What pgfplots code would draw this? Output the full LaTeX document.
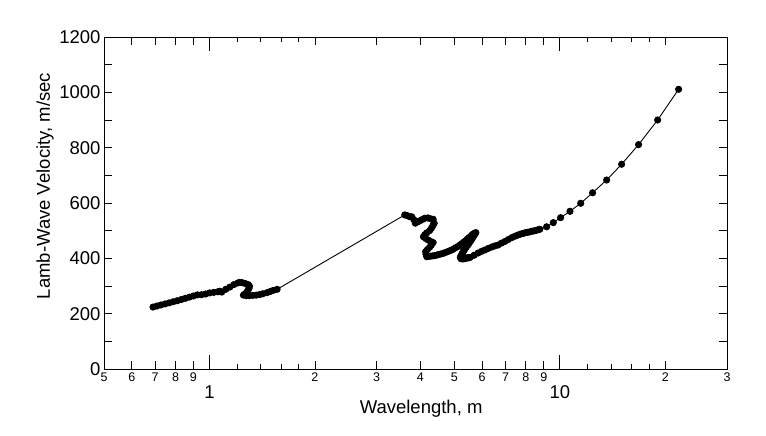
\documentclass[border=0pt]{standalone}
\usepackage{pgfplots}
\pgfplotsset{compat=1.18}
\usepackage{fontspec}
\setmainfont{Liberation Sans}
\newcommand{\bigtick}{\fontsize{18.5bp}{20bp}\selectfont}
\begin{document}
\begin{tikzpicture}
\path[use as bounding box] (-104bp,-67bp) rectangle (662bp,369bp);
\begin{axis}[
 at={(0,0)}, anchor=south west,
 scale only axis, width=623bp, height=332bp,
 xmode=log, log basis x=10, xmin=0.5, xmax=30, ymin=0, ymax=1200,
 xtick={0.5,0.6,0.7,0.8,0.9,2,3,4,5,6,7,8,9,20,30},
 xticklabels={5,6,7,8,9,2,3,4,5,6,7,8,9,2,3},
 minor xtick={1.2,1.4,1.6,1.8,12,14,16,18},
 extra x ticks={1,10},
 extra x tick labels={{\bigtick 1},{\bigtick 10}},
 extra x tick style={major tick length=14bp, tick label style={yshift=-13bp}},
 ytick={0,100,...,1200},
 yticklabels={0,,200,,400,,600,,800,,1000,,1200},
 major tick length=8.5bp, minor tick length=5bp,
 tick align=inside,
 /pgf/number format/assume math mode=true,
 x tick label style={font=\fontsize{12.5bp}{14bp}\selectfont},
 y tick label style={font=\fontsize{18.5bp}{20bp}\selectfont},
 label style={font=\fontsize{18.5bp}{20bp}\selectfont},
 xlabel={Wavelength, m}, ylabel={Lamb-Wave Velocity, m/sec},
 xlabel style={at={(axis description cs:0.509,-0.1205)}, anchor=center},
 ylabel style={at={(axis description cs:-0.0947,0.551)}, anchor=center},
 axis line style={line width=0.9bp},
 tick style={line width=0.8bp, black},
]
\addplot[black, line width=0.9bp, mark=*, mark size=3.1bp, mark options={solid}] coordinates {
(0.690,224) (0.708,227.6) (0.727,231.4) (0.747,235.2) (0.767,238.9) (0.788,243)
(0.809,246.8) (0.831,251.2) (0.853,255.4) (0.876,259.7) (0.900,264) (0.924,268)
(0.949,268.5) (0.975,271) (1.001,275) (1.028,277) (1.056,279) (1.070,281)
(1.084,278) (1.113,288) (1.143,296) (1.174,305) (1.205,311) (1.220,313)
(1.240,312) (1.265,309) (1.290,305) (1.300,300) (1.298,293) (1.290,286)
(1.280,279) (1.265,272) (1.250,267) (1.275,265) (1.300,265) (1.330,266)
(1.360,267) (1.390,269) (1.420,272) (1.460,276) (1.490,280) (1.520,284) (1.560,288)
(3.61,557) (3.66,555) (3.72,551) (3.78,550) (3.83,540) (3.87,527) (3.93,532)
(3.99,536) (4.06,541) (4.12,545) (4.20,546) (4.28,543) (4.35,541) (4.38,527)
(4.34,518) (4.30,509) (4.25,500) (4.17,492) (4.12,486) (4.08,478) (4.14,472)
(4.21,466) (4.28,461) (4.35,457) (4.30,448) (4.25,440) (4.19,432) (4.14,424)
(4.15,415) (4.17,406)
(4.23,407) (4.28,408) (4.34,409) (4.40,410) (4.46,412) (4.52,414) (4.58,416)
(4.65,418) (4.71,421) (4.78,424) (4.84,427) (4.91,430) (4.98,434) (5.05,439)
(5.12,443) (5.19,448) (5.25,453) (5.31,458) (5.38,463) (5.44,469) (5.50,474)
(5.56,479) (5.61,484) (5.66,488) (5.71,491) (5.76,493)
(5.73,489) (5.70,484) (5.67,479) (5.64,475) (5.61,470) (5.58,466) (5.55,461)
(5.52,457) (5.49,452) (5.46,448) (5.43,445) (5.41,442) (5.38,438) (5.36,434)
(5.33,430) (5.31,426) (5.29,422) (5.27,418) (5.25,414) (5.23,410) (5.21,406)
(5.20,403) (5.22,399)
(5.26,398) (5.30,398) (5.34,399) (5.38,400) (5.42,401) (5.46,402) (5.50,402)
(5.54,403) (5.69,411) (5.84,419) (5.97,425) (6.11,430) (6.25,436) (6.40,441)
(6.53,445) (6.66,448) (6.81,455) (6.97,461) (7.13,468) (7.30,475) (7.45,480)
(7.59,484) (7.70,487) (7.80,489) (7.90,491) (8.00,493) (8.10,494) (8.22,496)
(8.33,498) (8.44,499) (8.55,501) (8.66,503) (8.77,505) (9.17,514) (9.58,529)
(10.05,547) (10.69,570) (11.47,599) (12.40,637) (13.60,683) (15.01,740)
(16.78,811) (19.02,900) (21.83,1011)
};
\end{axis}
\end{tikzpicture}
\end{document}
